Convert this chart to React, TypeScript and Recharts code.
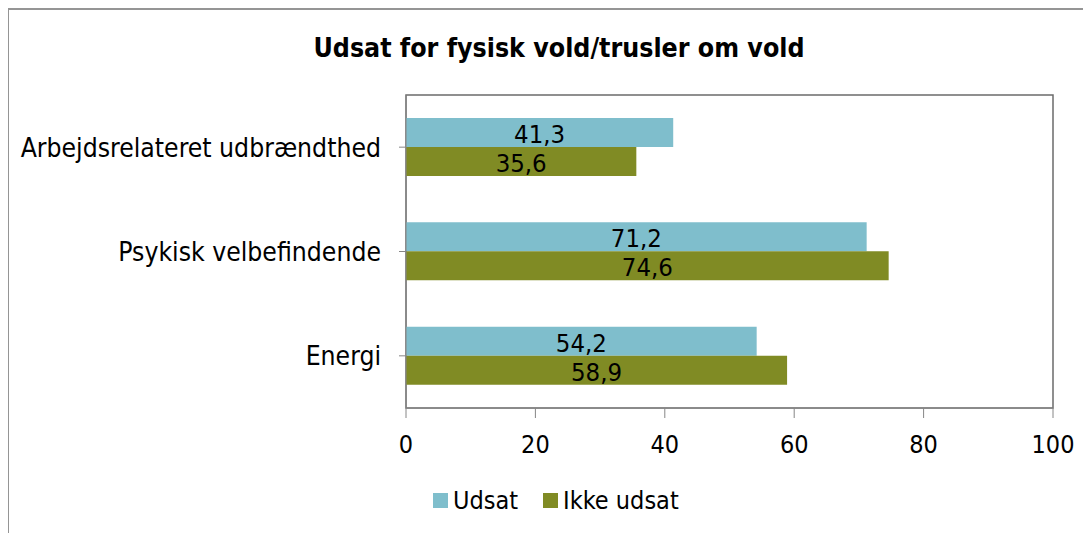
import React from 'react';
import { BarChart, Bar, XAxis, YAxis, LabelList, Legend, ReferenceArea } from 'recharts';

const title = 'Udsat for fysisk vold/trusler om vold';
const categories = ['Arbejdsrelateret udbrændthed', 'Psykisk velbefindende', 'Energi'];
const udsat = [41.3, 71.2, 54.2];
const ikkeUdsat = [35.6, 74.6, 58.9];
const xTicks = [0, 20, 40, 60, 80, 100];
const seriesNames = ['Udsat', 'Ikke udsat'];
const seriesColors = ['#7fbecc', '#808b24'];

const data = categories.map((name, i) => ({ name, udsat: udsat[i], ikke: ikkeUdsat[i] }));

const FONT = "'DejaVu Sans Condensed', 'DejaVu Sans', sans-serif";
const fmt = (v: any) => Number(v).toFixed(1).replace('.', ',');

const LegendContent = () => (
  <div style={{ display: 'flex', alignItems: 'center', height: 30, fontFamily: FONT, fontSize: 25, color: '#000' }}>
    {seriesNames.map((n, i) => (
      <div key={n} style={{ display: 'flex', alignItems: 'center', marginRight: i === 0 ? 25 : 0 }}>
        <span style={{ display: 'inline-block', width: 15, height: 15, background: seriesColors[i], marginRight: 5 }} />
        <span>{n}</span>
      </div>
    ))}
  </div>
);

export default function App() {
  return (
    <div style={{ position: 'relative', width: 1083, height: 525, background: '#fff' }}>
      <div style={{ position: 'absolute', left: -1, top: 0, width: 1100, height: 540, borderLeft: '2px solid #959595', borderTop: '2px solid #959595' }} />
      <div style={{ position: 'absolute', left: 0, width: 1102, top: 24, textAlign: 'center', fontFamily: FONT, fontWeight: 'bold', fontSize: 26.5, lineHeight: '32px', color: '#000' }}>{title}</div>
      <div style={{ position: 'absolute', left: 0, top: 0 }}>
        <BarChart
          width={1083}
          height={525}
          data={data}
          layout="vertical"
          margin={{ top: 87, right: 38, left: 0, bottom: 45 }}
          barSize={29}
          barGap={0}
        >
          <ReferenceArea x1={0} x2={100} fill="none" stroke="#6b6b6b" strokeWidth={1.5} ifOverflow="visible" />
          <XAxis
            type="number"
            domain={[0, 100]}
            ticks={xTicks}
            interval={0}
            height={50}
            tickSize={10}
            tickMargin={17}
            stroke="#868686"
            tick={{ fill: '#000', fontFamily: FONT, fontSize: 25 }}
          />
          <YAxis
            type="category"
            dataKey="name"
            width={398}
            tickSize={7}
            tickMargin={18}
            stroke="#868686"
            tick={{ fill: '#000', fontFamily: FONT, fontSize: 26.3 }}
          />
          <Legend content={<LegendContent />} wrapperStyle={{ position: 'absolute', top: 477, left: 425, bottom: 'auto', width: 'auto', height: 30 }} />
          <Bar dataKey="udsat" name={seriesNames[0]} fill={seriesColors[0]} isAnimationActive={false}>
            <LabelList dataKey="udsat" position="center" formatter={fmt} fill="#000" dy={1.5} style={{ fontFamily: FONT, fontSize: 25.5 }} />
          </Bar>
          <Bar dataKey="ikke" name={seriesNames[1]} fill={seriesColors[1]} isAnimationActive={false}>
            <LabelList dataKey="ikke" position="center" formatter={fmt} fill="#000" dy={1.5} style={{ fontFamily: FONT, fontSize: 25.5 }} />
          </Bar>
        </BarChart>
      </div>
    </div>
  );
}
